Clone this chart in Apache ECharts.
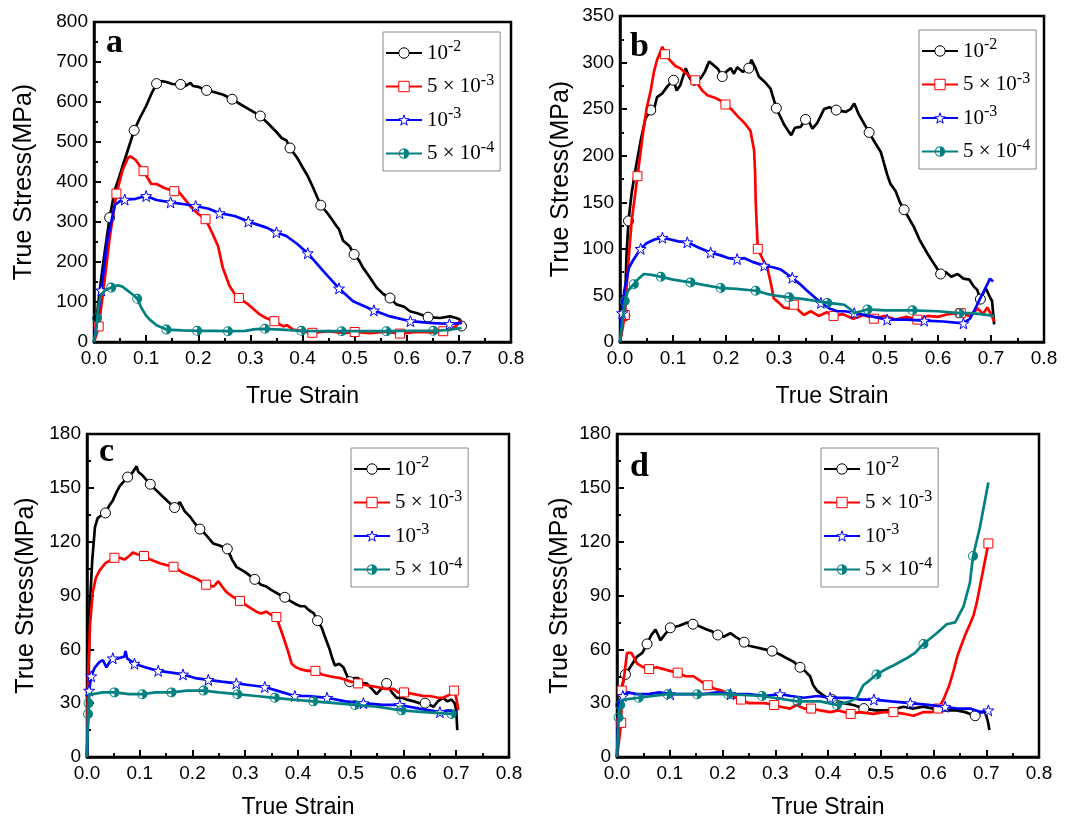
<!DOCTYPE html>
<html>
<head>
<meta charset="utf-8">
<script src="https://cdn.jsdelivr.net/npm/echarts@6/dist/echarts.min.js"></script>
<style>
  html, body { margin: 0; padding: 0; background: #fff; }
  #main { width: 1077px; height: 820px; }
</style>
</head>
<body>
<div id="main"></div>
<script>
/** 数据：真应变-真应力曲线 [strain, stress] **/
var aBlack = [[0,0],[0.005,60],[0.012,140],[0.02,220],[0.03,311],[0.04,380],[0.046,403],[0.055,440],[0.065,480],[0.077,529],[0.088,560],[0.1,590],[0.11,620],[0.12,646],[0.13,652],[0.139,650],[0.15,645],[0.166,644],[0.175,640],[0.185,648],[0.19,640],[0.2,638],[0.216,629],[0.23,625],[0.248,618],[0.265,607],[0.28,595],[0.296,583],[0.31,572],[0.319,565],[0.335,545],[0.35,525],[0.36,510],[0.369,504],[0.376,485],[0.39,460],[0.4,437],[0.41,415],[0.42,387],[0.435,342],[0.449,320],[0.46,300],[0.465,290],[0.47,282],[0.478,253],[0.49,240],[0.499,219],[0.508,205],[0.516,186],[0.53,160],[0.542,136],[0.555,120],[0.568,110],[0.58,94],[0.595,88],[0.606,77],[0.62,72],[0.641,62],[0.664,60],[0.683,64],[0.695,60],[0.702,56],[0.705,40]];
var aRed = [[0,0],[0.005,20],[0.009,39],[0.02,150],[0.03,260],[0.043,371],[0.055,430],[0.065,460],[0.07,464],[0.08,455],[0.095,427],[0.11,395],[0.12,395],[0.135,385],[0.154,377],[0.16,380],[0.171,362],[0.187,336],[0.2,320],[0.214,307],[0.228,269],[0.238,240],[0.247,186],[0.26,140],[0.27,120],[0.278,110],[0.296,94],[0.318,69],[0.33,60],[0.346,52],[0.363,39],[0.37,42],[0.382,31],[0.419,23],[0.45,27],[0.48,22],[0.5,25],[0.53,22],[0.56,26],[0.587,21],[0.62,25],[0.65,24],[0.67,27],[0.683,31],[0.695,40],[0.702,52],[0.705,45]];
var aBlue = [[0,0],[0.007,60],[0.014,129],[0.025,250],[0.04,343],[0.05,352],[0.059,356],[0.08,358],[0.1,365],[0.12,355],[0.147,349],[0.17,345],[0.195,340],[0.22,333],[0.241,322],[0.27,315],[0.296,301],[0.331,286],[0.35,274],[0.369,265],[0.39,245],[0.41,222],[0.44,177],[0.47,134],[0.497,102],[0.537,79],[0.568,64],[0.607,52],[0.644,48],[0.682,45],[0.705,48]];
var aTeal = [[0,0],[0.004,30],[0.006,60],[0.01,100],[0.014,119],[0.022,130],[0.033,136],[0.046,142],[0.055,138],[0.062,131],[0.075,118],[0.083,108],[0.091,85],[0.1,66],[0.107,56],[0.12,42],[0.139,31],[0.17,29],[0.198,28],[0.23,28],[0.257,27],[0.29,28],[0.31,32],[0.328,33],[0.36,31],[0.398,28],[0.44,27],[0.475,27],[0.52,27],[0.561,27],[0.6,28],[0.651,28],[0.68,30],[0.705,35]];

var bBlack = [[0,0],[0.005,20],[0.009,28],[0.012,90],[0.016,130],[0.022,160],[0.03,188],[0.039,216],[0.048,240],[0.058,249],[0.062,245],[0.07,263],[0.08,267],[0.09,275],[0.101,281],[0.107,270],[0.114,276],[0.124,294],[0.13,285],[0.14,276],[0.152,283],[0.16,290],[0.168,301],[0.175,298],[0.185,293],[0.193,285],[0.2,290],[0.209,294],[0.215,288],[0.221,295],[0.232,290],[0.243,294],[0.248,303],[0.255,295],[0.262,285],[0.275,278],[0.284,272],[0.295,251],[0.3,245],[0.309,234],[0.316,228],[0.323,222],[0.33,230],[0.341,231],[0.35,239],[0.357,236],[0.363,229],[0.372,235],[0.385,250],[0.395,252],[0.408,249],[0.426,247],[0.435,250],[0.442,256],[0.45,245],[0.46,235],[0.47,225],[0.48,215],[0.492,204],[0.504,180],[0.51,170],[0.52,162],[0.528,150],[0.536,142],[0.545,133],[0.555,123],[0.565,110],[0.574,101],[0.58,95],[0.589,87],[0.597,80],[0.605,73],[0.615,75],[0.625,70],[0.637,73],[0.648,68],[0.659,67],[0.667,60],[0.674,56],[0.68,46],[0.69,58],[0.698,48],[0.702,44],[0.706,19]];
var bRed = [[0,0],[0.005,15],[0.009,29],[0.015,80],[0.022,130],[0.033,178],[0.044,227],[0.05,250],[0.058,270],[0.064,290],[0.07,303],[0.08,317],[0.085,309],[0.095,302],[0.105,296],[0.114,294],[0.125,288],[0.142,281],[0.155,270],[0.165,265],[0.18,262],[0.19,259],[0.199,255],[0.21,250],[0.221,243],[0.235,235],[0.246,227],[0.25,215],[0.253,206],[0.255,180],[0.256,152],[0.258,125],[0.26,100],[0.27,88],[0.278,80],[0.285,62],[0.29,47],[0.3,42],[0.309,37],[0.318,36],[0.328,40],[0.337,34],[0.347,29],[0.36,33],[0.375,28],[0.39,32],[0.403,28],[0.42,30],[0.44,25],[0.46,29],[0.479,25],[0.5,28],[0.52,24],[0.54,27],[0.561,24],[0.58,28],[0.6,27],[0.62,30],[0.643,31],[0.66,28],[0.675,36],[0.685,30],[0.693,37],[0.7,30],[0.706,22]];
var bBlue = [[0,0],[0.004,31],[0.008,55],[0.017,80],[0.025,88],[0.039,100],[0.05,106],[0.065,110],[0.08,112],[0.095,110],[0.11,108],[0.127,107],[0.15,101],[0.171,96],[0.19,93],[0.205,90],[0.221,89],[0.235,90],[0.25,86],[0.272,82],[0.29,80],[0.303,78],[0.315,73],[0.325,69],[0.34,62],[0.353,55],[0.365,49],[0.379,42],[0.395,36],[0.41,33],[0.425,33],[0.442,31],[0.47,28],[0.504,24],[0.54,24],[0.574,23],[0.61,22],[0.648,20],[0.66,25],[0.668,33],[0.678,45],[0.687,55],[0.693,62],[0.698,68],[0.704,65]];
var bTeal = [[0,0],[0.004,20],[0.009,44],[0.015,55],[0.026,62],[0.035,68],[0.045,73],[0.06,72],[0.077,70],[0.1,67],[0.133,64],[0.16,61],[0.19,58],[0.22,57],[0.256,55],[0.275,52],[0.29,50],[0.319,48],[0.347,46],[0.37,44],[0.391,42],[0.41,41],[0.423,40],[0.435,35],[0.442,31],[0.455,33],[0.467,35],[0.5,34],[0.552,34],[0.6,33],[0.64,31],[0.662,31],[0.68,30],[0.706,28]];

var cBlack = [[0,0],[0.003,40],[0.005,82],[0.01,110],[0.015,128],[0.02,133],[0.024,134],[0.035,136],[0.042,140],[0.049,143],[0.055,147],[0.062,151],[0.077,156],[0.085,158],[0.094,162],[0.097,159],[0.105,157],[0.12,152],[0.13,149],[0.144,145],[0.155,142],[0.166,139],[0.176,142],[0.185,137],[0.195,134],[0.205,130],[0.214,127],[0.225,124],[0.239,119],[0.25,118],[0.266,116],[0.275,110],[0.283,106],[0.3,103],[0.318,99],[0.33,96],[0.34,95],[0.35,93],[0.362,91],[0.375,89],[0.385,87],[0.397,85],[0.405,84],[0.413,84],[0.42,82],[0.43,80],[0.437,76],[0.445,72],[0.451,67],[0.46,60],[0.465,55],[0.47,51],[0.478,52],[0.486,50],[0.492,46],[0.498,42],[0.506,44],[0.514,44],[0.522,41],[0.53,41],[0.54,38],[0.549,35],[0.558,38],[0.568,41],[0.578,36],[0.587,33],[0.597,33],[0.606,32],[0.62,31],[0.63,30],[0.641,30],[0.65,29],[0.657,28],[0.665,31],[0.675,33],[0.683,31],[0.691,32],[0.697,30],[0.7,26],[0.702,15]];
var cRed = [[0,0],[0.002,45],[0.006,75],[0.011,92],[0.017,100],[0.024,104],[0.035,108],[0.052,111],[0.062,111],[0.071,110],[0.08,112],[0.087,114],[0.095,113],[0.108,112],[0.12,110],[0.138,108],[0.15,107],[0.164,106],[0.18,103],[0.195,101],[0.21,99],[0.226,96],[0.24,95],[0.249,98],[0.256,95],[0.264,92],[0.278,89],[0.29,87],[0.305,84],[0.321,81],[0.33,80],[0.34,81],[0.35,79],[0.359,78],[0.365,73],[0.372,67],[0.38,60],[0.388,52],[0.396,50],[0.404,49],[0.418,48],[0.433,48],[0.445,46],[0.46,45],[0.48,44],[0.5,42],[0.514,41],[0.53,40],[0.549,39],[0.565,38],[0.581,38],[0.59,36],[0.601,36],[0.62,35],[0.637,34],[0.65,34],[0.666,33],[0.675,33],[0.682,34],[0.69,35],[0.696,37],[0.7,33],[0.704,26]];
var cBlue = [[0,0],[0.002,20],[0.004,37],[0.008,45],[0.015,50],[0.024,53],[0.03,54],[0.037,50],[0.043,53],[0.049,55],[0.06,55],[0.071,56],[0.073,59],[0.076,55],[0.09,52],[0.11,50],[0.135,48],[0.16,47],[0.182,46],[0.205,44],[0.23,43],[0.255,42],[0.283,41],[0.31,40],[0.337,39],[0.36,37],[0.394,34],[0.42,34],[0.455,33],[0.49,31],[0.524,30],[0.56,29],[0.593,29],[0.63,27],[0.669,25],[0.685,26],[0.701,25]];
var cTeal = [[0,0],[0.002,24],[0.003,30],[0.004,35],[0.011,35],[0.03,36],[0.052,36],[0.08,35],[0.105,35],[0.13,36],[0.16,36],[0.19,37],[0.221,37],[0.25,36],[0.285,35],[0.32,34],[0.356,33],[0.39,32],[0.429,31],[0.47,30],[0.508,29],[0.55,28],[0.596,26],[0.64,25],[0.691,24],[0.7,24]];

var dBlack = [[0,0],[0.003,15],[0.005,25],[0.01,40],[0.016,46],[0.025,50],[0.038,56],[0.048,58],[0.057,63],[0.065,68],[0.073,71],[0.078,68],[0.082,65],[0.09,68],[0.101,72],[0.117,73],[0.125,74],[0.133,75],[0.144,74],[0.155,73],[0.17,71],[0.18,70],[0.191,68],[0.202,67],[0.215,69],[0.225,67],[0.241,64],[0.25,62],[0.265,61],[0.28,60],[0.294,59],[0.31,57],[0.322,55],[0.335,53],[0.347,50],[0.356,48],[0.366,45],[0.372,40],[0.379,37],[0.388,35],[0.398,33],[0.408,32],[0.417,31],[0.43,30],[0.448,29],[0.468,27],[0.49,26],[0.511,26],[0.53,27],[0.543,28],[0.56,27],[0.58,28],[0.6,27],[0.606,28],[0.62,26],[0.644,26],[0.66,25],[0.679,23],[0.69,25],[0.698,25],[0.703,20],[0.706,15]];
var dRed = [[0,0],[0.003,7],[0.008,19],[0.009,37],[0.014,46],[0.019,58],[0.027,58],[0.033,55],[0.038,52],[0.05,50],[0.061,49],[0.075,50],[0.088,49],[0.1,48],[0.115,47],[0.13,45],[0.145,45],[0.16,42],[0.172,40],[0.185,38],[0.199,37],[0.215,34],[0.235,32],[0.25,30],[0.259,30],[0.28,30],[0.298,29],[0.31,28],[0.328,27],[0.34,29],[0.355,27],[0.368,27],[0.385,26],[0.404,25],[0.42,26],[0.443,24],[0.46,25],[0.486,24],[0.505,25],[0.524,25],[0.545,24],[0.562,23],[0.58,25],[0.597,25],[0.609,27],[0.619,32],[0.63,40],[0.638,48],[0.645,56],[0.65,60],[0.66,68],[0.669,74],[0.676,79],[0.682,86],[0.688,95],[0.694,104],[0.7,113],[0.704,119]];
var dBlue = [[0,0],[0.003,30],[0.011,34],[0.02,36],[0.038,35],[0.06,35],[0.08,36],[0.101,35],[0.13,35],[0.164,35],[0.19,36],[0.215,35],[0.25,35],[0.28,34],[0.309,35],[0.33,34],[0.354,33],[0.38,34],[0.404,33],[0.439,33],[0.462,32],[0.487,32],[0.52,31],[0.556,30],[0.59,29],[0.622,28],[0.645,27],[0.669,27],[0.69,25],[0.704,26]];
var dTeal = [[0,0],[0.003,22],[0.006,29],[0.013,32],[0.041,33],[0.096,35],[0.152,35],[0.211,35],[0.275,34],[0.342,31],[0.385,31],[0.417,29],[0.442,31],[0.455,33],[0.467,40],[0.48,43],[0.492,46],[0.51,49],[0.524,51],[0.549,55],[0.565,58],[0.581,63],[0.606,69],[0.625,74],[0.641,75],[0.657,84],[0.669,97],[0.675,112],[0.688,128],[0.704,153]];

/** 标记点所在的应变 **/
var aBlackMarks = [0.03,0.077,0.12,0.166,0.216,0.265,0.319,0.376,0.435,0.499,0.568,0.641,0.705];
var aRedMarks = [0.009,0.043,0.095,0.154,0.214,0.278,0.346,0.419,0.5,0.587,0.67];
var aBlueMarks = [0.014,0.059,0.1,0.147,0.195,0.241,0.296,0.35,0.41,0.47,0.537,0.607,0.682];
var aTealMarks = [0.006,0.033,0.083,0.139,0.198,0.257,0.328,0.398,0.475,0.561,0.651];
var bBlackMarks = [0.009,0.016,0.058,0.101,0.193,0.243,0.295,0.35,0.408,0.47,0.536,0.605,0.68];
var bRedMarks = [0.009,0.033,0.085,0.142,0.199,0.26,0.328,0.403,0.479,0.561,0.643];
var bBlueMarks = [0.004,0.039,0.08,0.127,0.171,0.221,0.272,0.325,0.379,0.442,0.504,0.574,0.648];
var bTealMarks = [0.009,0.026,0.077,0.133,0.19,0.256,0.319,0.391,0.467,0.552,0.64];
var cBlackMarks = [0.035,0.077,0.12,0.166,0.214,0.266,0.318,0.375,0.437,0.498,0.568,0.641];
var cRedMarks = [0.052,0.108,0.164,0.226,0.29,0.359,0.433,0.514,0.601,0.696];
var cBlueMarks = [0.004,0.008,0.049,0.09,0.135,0.182,0.23,0.283,0.337,0.394,0.455,0.524,0.593,0.669];
var cTealMarks = [0.002,0.003,0.052,0.105,0.16,0.221,0.285,0.356,0.429,0.508,0.596,0.691];
var dBlackMarks = [0.016,0.057,0.101,0.144,0.191,0.241,0.294,0.347,0.408,0.468,0.679];
var dRedMarks = [0.008,0.009,0.061,0.115,0.172,0.235,0.298,0.368,0.443,0.524,0.609,0.704];
var dBlueMarks = [0.011,0.101,0.215,0.309,0.404,0.487,0.556,0.622,0.704];
var dTealMarks = [0.003,0.006,0.041,0.096,0.152,0.211,0.275,0.342,0.417,0.492,0.581,0.675];

var rateNames = ['1e-2', '5e-3', '1e-3', '5e-4'];
var rateLabels = {
  '1e-2': '{n|10}{s|-2}',
  '5e-3': '{n|5 × 10}{s|-3}',
  '1e-3': '{n|10}{s|-3}',
  '5e-4': '{n|5 × 10}{s|-4}'
};
var yMax = [800, 350, 180, 180];
var yStep = [100, 50, 30, 30];
var panelNames = ['a', 'b', 'c', 'd'];

var COLORS = ['#000000', '#ff0000', '#0000ff', '#008080'];
var STAR = 'path://M0,-10L2.35,-3.24L9.51,-3.09L3.8,1.24L5.88,8.09L0,4L-5.88,8.09L-3.8,1.24L-9.51,-3.09L-2.35,-3.24Z';
var HALF = 'path://M0,-10A10,10 0 0,1 0,10Z M0,-10A10,10 0 0,0 0,10L0,8.3A8.3,8.3 0 0,1 0,-8.3Z';
var symbols = [
  { symbol: 'circle', size: 10, itemStyle: { color: '#fff', borderColor: '#000', borderWidth: 1 } },
  { symbol: 'rect', size: 9, itemStyle: { color: '#fff', borderColor: '#ff0000', borderWidth: 1 } },
  { symbol: STAR, size: 11, itemStyle: { color: '#fff', borderColor: '#0000ff', borderWidth: 1 } },
  { symbol: HALF, size: 10, itemStyle: { color: '#008080', borderWidth: 0 } }
];

var curves = [
  [aBlack, aRed, aBlue, aTeal],
  [bBlack, bRed, bBlue, bTeal],
  [cBlack, cRed, cBlue, cTeal],
  [dBlack, dRed, dBlue, dTeal]
];
var marks = [
  [aBlackMarks, aRedMarks, aBlueMarks, aTealMarks],
  [bBlackMarks, bRedMarks, bBlueMarks, bTealMarks],
  [cBlackMarks, cRedMarks, cBlueMarks, cTealMarks],
  [dBlackMarks, dRedMarks, dBlueMarks, dTealMarks]
];

// 布局
var grids = [
  { left: 94, top: 22, width: 417, height: 320 },
  { left: 620, top: 16, width: 424, height: 326 },
  { left: 87, top: 434, width: 422, height: 324 },
  { left: 617, top: 434, width: 422, height: 324 }
];
var yNameGap = [57, 46, 48, 44];
var xNameGap = [43, 43, 39, 39];
var legendPos = [
  { left: 383, top: 32 },
  { left: 919, top: 30 },
  { left: 351, top: 448 },
  { left: 821, top: 448 }
];
var labelPos = [
  { left: 106, top: 26 },
  { left: 630, top: 30 },
  { left: 99, top: 435 },
  { left: 630, top: 450 }
];

function buildData(line, mk) {
  var flags = line.map(function () { return false; });
  mk.forEach(function (x) {
    var best = 0, bd = 1e9;
    for (var i = 0; i < line.length; i++) {
      var d = Math.abs(line[i][0] - x);
      if (d < bd && !flags[i]) { bd = d; best = i; }
    }
    flags[best] = true;
  });
  return line.map(function (p, i) {
    return flags[i] ? { value: p } : { value: p, symbol: 'none' };
  });
}

var chart = echarts.init(document.getElementById('main'), null, { renderer: 'canvas' });

var xAxes = [], yAxes = [], series = [], legends = [], graphics = [];
var axisFont = 'Liberation Sans';
for (var k = 0; k < 4; k++) {
  xAxes.push({
    gridIndex: k, type: 'value', min: 0, max: 0.8, interval: 0.1,
    name: 'True Strain', nameLocation: 'middle', nameGap: xNameGap[k],
    nameTextStyle: { fontFamily: axisFont, fontSize: 23, color: '#000' },
    axisLine: { show: true, onZero: false, lineStyle: { color: '#000', width: 2.5 } },
    axisTick: { inside: true, length: 7, lineStyle: { color: '#000', width: 2 } },
    minorTick: { show: true, splitNumber: 2, length: 4, lineStyle: { color: '#000', width: 2 } },
    axisLabel: { margin: 7, fontFamily: axisFont, fontSize: 19, color: '#000',
      formatter: function (v) { return v.toFixed(1); } },
    splitLine: { show: false }
  });
  yAxes.push({
    gridIndex: k, type: 'value', min: 0, max: yMax[k], interval: yStep[k],
    name: 'True Stress(MPa)', nameLocation: 'middle', nameGap: yNameGap[k],
    nameTextStyle: { fontFamily: axisFont, fontSize: 25, color: '#000' },
    axisLine: { show: true, lineStyle: { color: '#000', width: 2.5 } },
    axisTick: { inside: true, length: 7, lineStyle: { color: '#000', width: 2 } },
    minorTick: { show: true, splitNumber: 2, length: 4, lineStyle: { color: '#000', width: 2 } },
    axisLabel: { margin: 6, fontFamily: axisFont, fontSize: 19, color: '#000' },
    splitLine: { show: false }
  });
  var legendData = [];
  for (var s = 0; s < 4; s++) {
    var nm = panelNames[k] + ':' + rateNames[s];
    legendData.push({ name: nm, itemStyle: symbols[s].itemStyle });
    series.push({
      name: nm, type: 'line', xAxisIndex: k, yAxisIndex: k,
      data: buildData(curves[k][s], marks[k][s]),
      symbol: symbols[s].symbol, symbolSize: symbols[s].size, showSymbol: true,
      showAllSymbol: true, animation: false,
      lineStyle: { color: COLORS[s], width: 2.7 },
      itemStyle: symbols[s].itemStyle,
      z: 2 + s
    });
  }
  legends.push({
    data: legendData, orient: 'vertical', left: legendPos[k].left, top: legendPos[k].top,
    itemWidth: 36, itemHeight: 13, itemGap: 9,
    backgroundColor: '#fff', borderColor: '#888', borderWidth: 1, padding: [7, 6, 7, 2],
    selectedMode: false,
    formatter: function (n) { return rateLabels[n.split(':')[1]]; },
    textStyle: {
      rich: {
        n: { fontFamily: 'Liberation Serif', fontSize: 21, color: '#000' },
        s: { fontFamily: 'Liberation Serif', fontSize: 16, color: '#000', padding: [0, 0, 12, 0] }
      }
    }
  });
  graphics.push({
    type: 'text', left: labelPos[k].left, top: labelPos[k].top, z: 100,
    style: { text: panelNames[k], font: 'bold 34px "Liberation Serif"', fill: '#000' }
  });
  grids[k].show = true;
  grids[k].borderColor = '#000';
  grids[k].borderWidth = 2.5;
}

chart.setOption({
  backgroundColor: '#fff',
  animation: false,
  grid: grids,
  xAxis: xAxes,
  yAxis: yAxes,
  legend: legends,
  graphic: graphics,
  series: series
});
</script>
</body>
</html>
